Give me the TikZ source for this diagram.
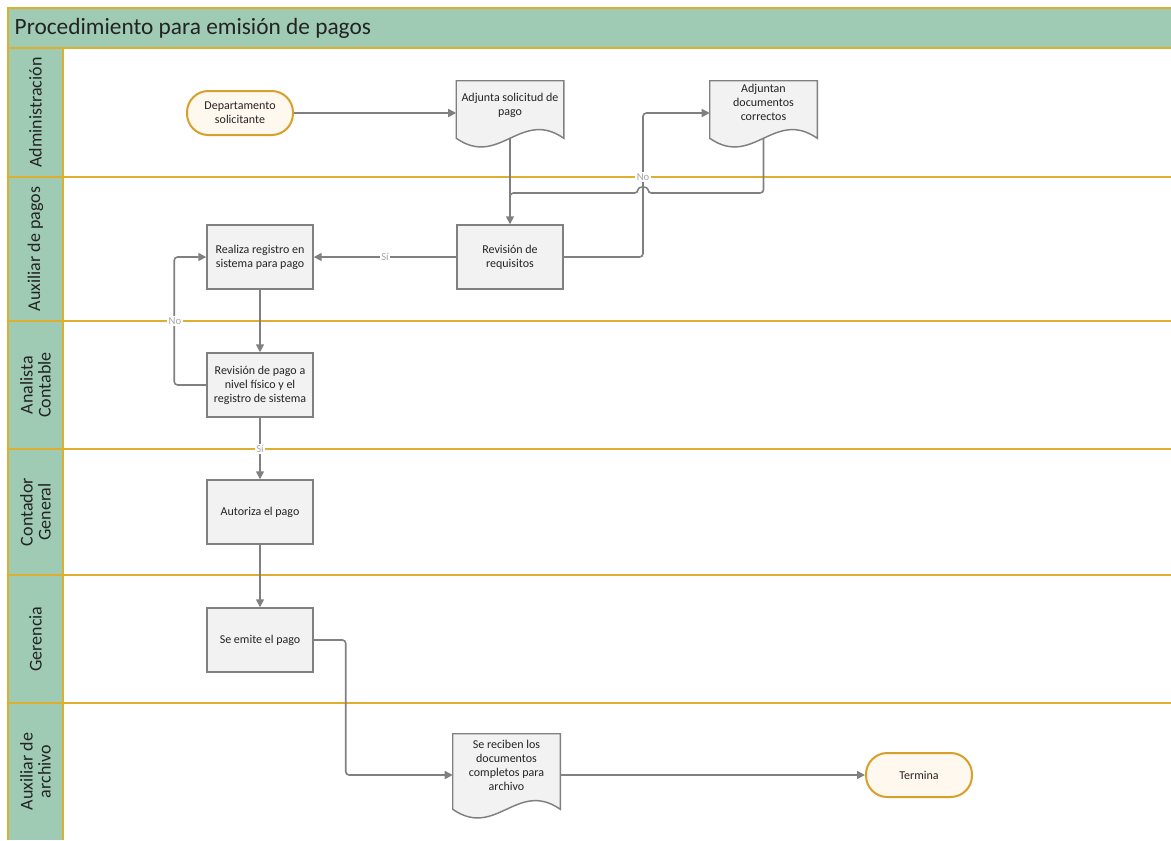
\documentclass[tikz,border=0pt]{standalone}
\usepackage{fontspec}
\setmainfont{Carlito}
\usetikzlibrary{arrows.meta,calc}
\definecolor{lanegreen}{RGB}{159,203,181}
\definecolor{gold}{RGB}{222,174,48}
\definecolor{nodefill}{RGB}{242,242,242}
\definecolor{nodeline}{RGB}{128,128,128}
\definecolor{termfill}{RGB}{255,248,238}
\definecolor{termline}{RGB}{215,160,40}
\definecolor{conncol}{RGB}{128,128,128}
\definecolor{lbl}{RGB}{166,166,166}
\definecolor{txt}{RGB}{35,35,35}
\pgfdeclarelayer{lanes}
\pgfdeclarelayer{conns}
\pgfdeclarelayer{docs}
\pgfsetlayers{lanes,conns,docs,main}
\newcommand{\nodefont}{\fontsize{9}{10.5}\selectfont}
\newcommand{\docoutline}[1]{%
  \path[docshape] (#1.north west) -- (#1.north east) -- ($(#1.south east)+(0,-7)$)
    .. controls ($(#1.south east)+(-43,-37)$) and ($(#1.south west)+(43,23)$) ..
    ($(#1.south west)+(0,-7)$) -- cycle;}
\newcommand{\doctxt}[2]{\raisebox{#1}[0pt][0pt]{\begin{tabular}{@{}c@{}}#2\end{tabular}}}
\begin{document}
\begin{tikzpicture}[x=0.75pt,y=-0.75pt,
  procbox/.style={draw=nodeline, fill=nodefill, line width=1.1pt, minimum width=79.5pt,
    minimum height=48pt, align=center, font=\nodefont, text=txt, inner sep=2pt},
  term/.style={draw=termline, fill=termfill, line width=1.5pt, rounded corners=16pt,
    minimum width=79.5pt, minimum height=33pt, align=center, font=\nodefont, text=txt},
  doctext/.style={minimum width=80.25pt, align=center, font=\nodefont, text=txt, inner sep=2pt},
  docshape/.style={draw=nodeline, fill=nodefill, line width=1.1pt},
  conn/.style={draw=conncol, line width=1.2pt, rounded corners=2.5pt,
    -{Triangle[length=6pt,width=6pt]}},
  edgelbl/.style={fill=white, text=lbl, font=\fontsize{8}{9}\selectfont, inner sep=1pt},
  lanelbl/.style={rotate=90, align=center, text=txt, font=\fontsize{13.5}{13.5}\selectfont},
  laneline/.style={draw=gold, line width=1.2pt}
]
\useasboundingbox (0,0) rectangle (1171,840);
% ---------- lanes ----------
\begin{pgfonlayer}{lanes}
  \fill[white] (0,0) rectangle (1171,840);
  \fill[lanegreen] (8,8) rectangle (1171,48);
  \fill[lanegreen] (8,48) rectangle (63,840);
  \draw[laneline] (1171,8) -- (8,8) -- (8,840);
  \draw[laneline] (8,48) -- (1171,48);
  \draw[laneline] (63,48) -- (63,840);
  \foreach \yy in {177,321,449,575,703} {\draw[laneline] (8,\yy) -- (1171,\yy);}
\end{pgfonlayer}
\node[anchor=west, text=txt, font=\fontsize{17.5}{19}\selectfont] (title) at (10,28) {Procedimiento para emisión de pagos};
\node[lanelbl] (l1) at (35.5,112.5) {Administración};
\node[lanelbl] (l2) at (35.5,249) {Auxiliar de pagos};
\node[lanelbl] (l3) at (35.5,385) {Analista\\Contable};
\node[lanelbl] (l4) at (35.5,512) {Contador\\General};
\node[lanelbl] (l5) at (35.5,639) {Gerencia};
\node[lanelbl] (l6) at (35.5,771.5) {Auxiliar de\\archivo};
% ---------- nodes ----------
\node[term] (dept) at (240,113) {Departamento\\solicitante};
\node[doctext, minimum height=48pt] (adj) at (510,113) {\doctxt{3pt}{Adjunta solicitud de\\pago}};
\node[doctext, minimum height=48pt] (adc) at (763.5,113) {\doctxt{4.5pt}{Adjuntan\\documentos\\correctos}};
\node[procbox] (rev) at (510,257) {Revisión de\\requisitos};
\node[procbox] (reg) at (260,257) {Realiza registro en\\sistema para pago};
\node[procbox] (rp) at (260,385) {Revisión de pago a\\nivel físico y el\\registro de sistema};
\node[procbox] (aut) at (260,512) {Autoriza el pago};
\node[procbox] (emi) at (260,640) {Se emite el pago};
\node[doctext, minimum height=61.5pt] (sr) at (506.5,775) {\doctxt{3.8pt}{Se reciben los\\documentos\\completos para\\archivo}};
\node[term] (fin) at (919,775) {Termina};
\begin{pgfonlayer}{docs}
  \docoutline{adj}
  \docoutline{adc}
  \docoutline{sr}
\end{pgfonlayer}
% ---------- connectors ----------
\coordinate (hop) at (643,193);
\begin{pgfonlayer}{conns}
  \draw[conn] (dept) -- (adj);
  \draw[conn] (adj.center) -- (rev.north);
  \draw[conn,-] (adc.center) |- ($(hop)+(5,0)$)
     .. controls ($(hop)+(5,-7)$) and ($(hop)+(-5,-7)$) .. ($(hop)+(-5,0)$)
     -- (adj.center |- hop) -- ++(0,10);
  \draw[conn] (rev.east) -- (hop |- rev.east) -- (hop |- adc) -- (adc.west);
  \draw[conn] (rev) -- (reg);
  \draw[conn] (reg) -- (rp);
  \draw[conn] (rp.west) -- ++(-32,0) |- (reg.west);
  \draw[conn] (rp) -- (aut);
  \draw[conn] (aut) -- (emi);
  \draw[conn] (emi.east) -- ++(32,0) |- (sr.west);
  \draw[conn] (sr) -- (fin);
\end{pgfonlayer}
\node[edgelbl] (no1) at (643,177) {No};
\node[edgelbl] (si1) at ($(rev.west)!0.5!(reg.east)$) {Sí};
\node[edgelbl] (no2) at (175,321) {No};
\node[edgelbl] (si2) at (260,449) {Sí};
\end{tikzpicture}
\end{document}
